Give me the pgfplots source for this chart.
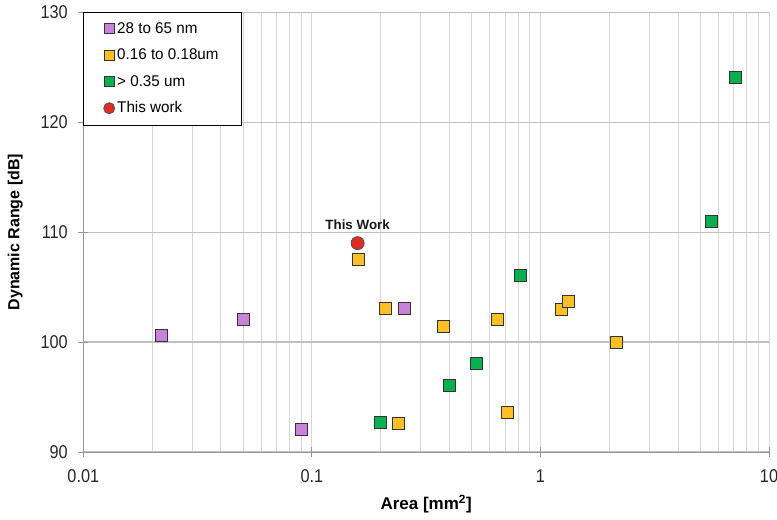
\documentclass[border=0pt]{standalone}
\usepackage{fontspec}
\setmainfont{Liberation Sans}
\newfontfamily\narrowfont[FakeStretch=0.88]{Liberation Sans}
\newfontfamily\legfont[FakeStretch=0.98]{Liberation Sans}
\usepackage{pgfplots}
\pgfplotsset{compat=1.18}
\definecolor{cpurple}{RGB}{200,130,218}
\definecolor{cyellow}{RGB}{252,192,38}
\definecolor{cgreen}{RGB}{10,176,80}
\definecolor{cred}{RGB}{224,46,36}
\definecolor{gridc}{RGB}{214,214,214}
\definecolor{hgridc}{RGB}{192,192,192}
\definecolor{axc}{RGB}{150,150,150}
\begin{document}
\begin{tikzpicture}
\begin{axis}[
  scale only axis, width=685.7pt, height=439.7pt,
  xmode=log, xmin=0.01, xmax=10, ymin=90, ymax=130,
  xtick={0.01,0.1,1,10}, xticklabels={0.01,0.1,1,10},
  minor xtick={0.02,0.03,0.04,0.05,0.06,0.07,0.08,0.09,0.2,0.3,0.4,0.5,0.6,0.7,0.8,0.9,2,3,4,5,6,7,8,9},
  ytick={90,100,110,120,130},
  /pgf/number format/assume math mode=true,
  xmajorgrids, xminorgrids, ymajorgrids,
  major x grid style={gridc, line width=1pt},
  minor x grid style={gridc, line width=1pt},
  major y grid style={hgridc, line width=1.3pt},
  axis x line*=bottom, axis y line*=left,
  axis line style={axc, line width=1pt, -},
  tick align=center, major tick length=10pt, minor tick length=0pt,
  tick style={axc, line width=1pt},
  ticklabel style={font=\narrowfont\fontsize{18.5}{20}\selectfont, text=black!85},
  xticklabel style={yshift=-9pt},
  yticklabel style={xshift=-7pt},
  xlabel={Area [mm\textsuperscript{2}]},
  ylabel={Dynamic Range [dB]},
  xlabel style={font=\bfseries\fontsize{17}{19}\selectfont, at={(axis description cs:0.5,-0.1183)}, anchor=center},
  ylabel style={font=\bfseries\fontsize{16}{18}\selectfont, at={(axis description cs:-0.0992,0.5)}, anchor=center, rotate=0},
  legend image code/.code={\draw[mark repeat=1,#1, every mark/.append style={scale=0.85}] plot coordinates {(0pt,0.5pt)};},
  legend cell align=left,
  legend style={at={(0,1)}, anchor=north west, draw=black, line width=0.8pt,
    inner xsep=20pt, inner ysep=8pt, row sep=9.5pt,
    font=\legfont\fontsize{15.5}{17}\selectfont,
    nodes={inner xsep=2.5pt, inner ysep=1.5pt, text height=11pt, text depth=3pt}},
  clip=false,
]
\addplot[only marks, mark=square*, mark size=6pt, mark options={fill=cpurple, draw=black!80, line width=0.8pt}]
  coordinates {(0.022,100.6) (0.05,102.06) (0.09,92.03) (0.255,103.1)};
\addlegendentry{\makebox[97pt][l]{28 to 65 nm}}
\addplot[only marks, mark=square*, mark size=6pt, mark options={fill=cyellow, draw=black!80, line width=0.8pt}]
  coordinates {(0.16,107.5) (0.21,103.1) (0.378,101.4) (0.65,102.06) (0.714,93.57) (0.239,92.6) (1.24,103.0) (1.323,103.7) (2.15,100.0)};
\addlegendentry{0.16 to 0.18um}
\addplot[only marks, mark=square*, mark size=6pt, mark options={fill=cgreen, draw=black!80, line width=0.8pt}]
  coordinates {(0.2,92.7) (0.398,96.06) (0.526,98.06) (0.82,106.06) (5.59,111.0) (7.12,124.05)};
\addlegendentry{> 0.35 um}
\addplot[only marks, mark=*, mark size=6.5pt, mark options={fill=cred, draw=black!70, line width=0.8pt}]
  coordinates {(0.1586,109.0)};
\addlegendentry{This work}
\node[font=\bfseries\fontsize{13.4}{15}\selectfont, text=black!90] at (axis cs:0.1586,109) [yshift=18.7pt] {This Work};
\end{axis}
\pgfresetboundingbox
\path[use as bounding box] ([shift={(-83.3pt,-67pt)}]current axis.south west) rectangle ([shift={(8pt,12.3pt)}]current axis.north east);
\end{tikzpicture}
\end{document}
